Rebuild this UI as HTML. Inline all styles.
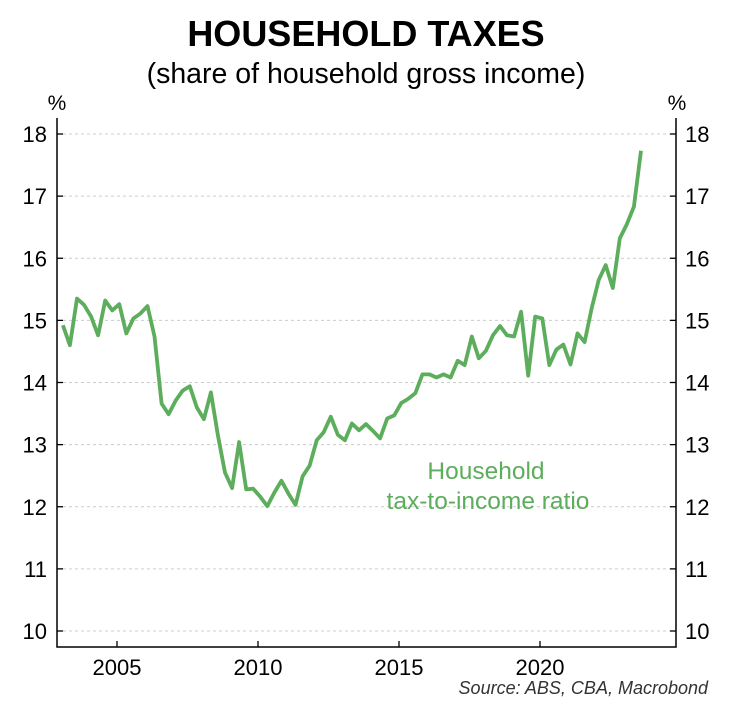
<!DOCTYPE html>
<html><head><meta charset="utf-8"><style>
body{margin:0;background:#fff;font-family:"Liberation Sans",sans-serif}
svg text{font-family:"Liberation Sans",sans-serif}
</style></head><body>
<svg width="729" height="711">
<text x="366" y="46" text-anchor="middle" font-size="36" font-weight="bold">HOUSEHOLD TAXES</text>
<text x="366" y="83" text-anchor="middle" font-size="28.5">(share of household gross income)</text>
<text x="57" y="110" text-anchor="middle" font-size="21">%</text>
<text x="677" y="110" text-anchor="middle" font-size="21">%</text>
<g id="grid"></g>
<g id="axes"></g>
<path id="line" fill="none" stroke="#5cad5c" stroke-width="3.8" stroke-linejoin="round"/>
<text x="486" y="479" text-anchor="middle" font-size="24.5" fill="#5cad5c">Household</text>
<text x="488" y="509" text-anchor="middle" font-size="24.5" fill="#5cad5c">tax-to-income ratio</text>
<text x="708" y="694" text-anchor="end" font-size="18" font-style="italic" fill="#333">Source: ABS, CBA, Macrobond</text>
</svg>
<script>
const yTicks=[10,11,12,13,14,15,16,17,18];
const xTicks=[2005,2010,2015,2020];
const startYear=2003.08;
const values=[14.92,14.60,15.35,15.25,15.06,14.76,15.32,15.16,15.26,14.79,15.03,15.11,15.23,14.74,13.66,13.49,13.71,13.87,13.94,13.60,13.41,13.84,13.14,12.55,12.30,13.04,12.28,12.29,12.16,12.01,12.23,12.42,12.21,12.03,12.49,12.66,13.07,13.20,13.45,13.16,13.07,13.34,13.23,13.33,13.22,13.10,13.42,13.47,13.67,13.74,13.83,14.13,14.13,14.08,14.13,14.08,14.35,14.28,14.74,14.39,14.51,14.76,14.91,14.76,14.74,15.14,14.11,15.06,15.03,14.28,14.53,14.61,14.29,14.79,14.65,15.19,15.65,15.89,15.52,16.32,16.55,16.83,17.73];
const L=57,R=676,B=647;
const y=v=>134+(18-v)*62.125;
const x=t=>117+(t-2005)*28.2;
const NS="http://www.w3.org/2000/svg";
const grid=document.getElementById('grid'),axes=document.getElementById('axes');
function mk(tag,at,parent){const e=document.createElementNS(NS,tag);for(const k in at)e.setAttribute(k,at[k]);parent.appendChild(e);return e;}
yTicks.forEach(v=>{
 const g=mk('line',{x1:L,x2:R,y1:y(v),y2:y(v),stroke:'#ccc','stroke-dasharray':'3,3'},grid);
 
 
 mk('line',{x1:L,x2:L+6,y1:y(v),y2:y(v),stroke:'#000','stroke-width':1.3},axes);
 mk('line',{x1:R-6,x2:R,y1:y(v),y2:y(v),stroke:'#000','stroke-width':1.3},axes);
 const a=mk('text',{x:L-10,y:y(v)+8,'text-anchor':'end','font-size':22},axes);a.textContent=v;
 
 
 const b=mk('text',{x:R+9,y:y(v)+8,'font-size':22},axes);b.textContent=v;
 
 
});
xTicks.forEach(t=>{
 mk('line',{x1:x(t),x2:x(t),y1:B,y2:B-6,stroke:'#000','stroke-width':1.3},axes);
 const a=mk('text',{x:x(t),y:B+28,'text-anchor':'middle','font-size':22},axes);a.textContent=t;
 
 
});
mk('polyline',{points:`${L},118 ${L},${B} ${R},${B} ${R},118`,fill:'none',stroke:'#000','stroke-width':1.5},axes);
document.getElementById('line').setAttribute('d',values.map((v,i)=>(i?'L':'M')+x(startYear+i*0.25).toFixed(1)+','+y(v).toFixed(1)).join(''));
</script>
</body></html>
